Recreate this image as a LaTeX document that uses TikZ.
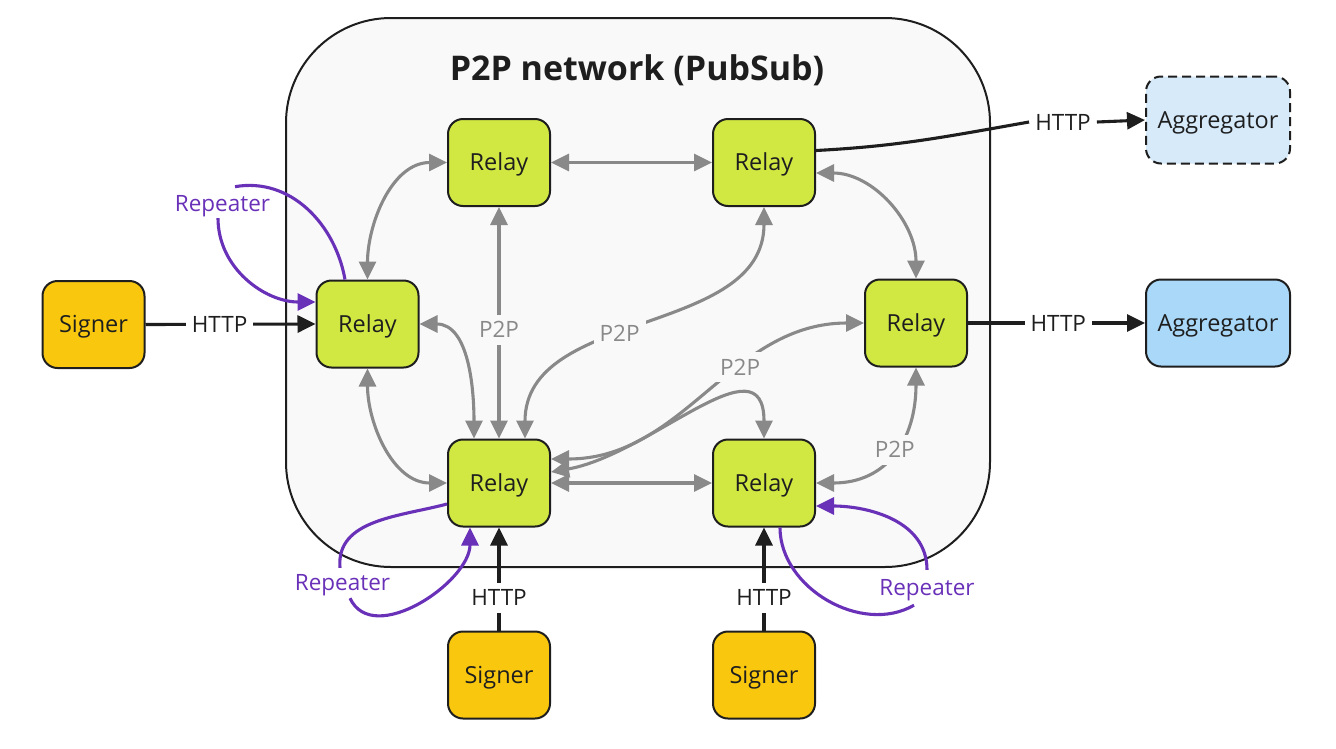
\documentclass[tikz,border=0pt]{standalone}
\usepackage{fontspec}
\setmainfont{Open Sans}
\usepackage{xcolor}
\usepackage{tikz}
\usetikzlibrary{arrows.meta}

\definecolor{relaygreen}{HTML}{D1E843}
\definecolor{signeryellow}{HTML}{F9C80E}
\definecolor{aggblue}{HTML}{A9D8F8}
\definecolor{aggpale}{HTML}{D6EAFA}
\definecolor{netgray}{HTML}{F9F9F9}
\definecolor{p2pgray}{HTML}{898989}
\definecolor{reppurple}{HTML}{6930B8}
\definecolor{ink}{HTML}{1E1E1E}

\tikzset{bigtri/.tip={Triangle[length=18pt, width=17pt]}}

\begin{document}
\begin{tikzpicture}[x=1pt, y=1pt,
    box/.style={draw=ink, line width=2pt, rounded corners=15pt,
      minimum width=102pt, minimum height=87pt, inner sep=0pt,
      text=ink, font=\fontsize{23.5}{28}\selectfont,
      text height=16.5pt, text depth=0pt},
    relay/.style={box, fill=relaygreen},
    signer/.style={box, fill=signeryellow},
    aggregator/.style={box, fill=aggblue, minimum width=144pt},
    network/.style={draw=ink, line width=2pt, fill=netgray,
      rounded corners=105pt, minimum width=704pt, minimum height=549pt},
    lbl/.style={font=\fontsize{22.5}{27}\selectfont,
      text height=16pt, text depth=0pt, inner xsep=6pt, inner ysep=7pt},
    p2plbl/.style={lbl, text=p2pgray, fill=netgray},
    httplbl/.style={lbl, text=ink, fill=white},
    replbl/.style={lbl, text=reppurple, inner sep=4pt},
    p2p/.style={draw=p2pgray, line width=3.1pt, bigtri-bigtri},
    http/.style={draw=ink, line width=3.1pt, -bigtri},
    repeater/.style={draw=reppurple, line width=3.1pt, -bigtri}]

    \useasboundingbox (0,0) rectangle (1336,-748);

    \node[network] (net) at (638,-292.5) {};
    \node[font=\fontsize{34}{40}\selectfont\bfseries, text=ink] (title)
      at (637,-70) {P2P network (PubSub)};

    \node[relay] (rl) at (367.5,-324) {Relay};
    \node[relay] (tl) at (499,-162.5) {Relay};
    \node[relay] (tr) at (764,-162.5) {Relay};
    \node[relay] (rr) at (916,-323) {Relay};
    \node[relay] (bl) at (499,-483) {Relay};
    \node[relay] (br) at (764,-483) {Relay};

    \node[signer] (sl) at (93.5,-324.5) {Signer};
    \node[signer] (sbl) at (499,-675) {Signer};
    \node[signer] (sbr) at (764,-675) {Signer};

    \node[aggregator, fill=aggpale, dash pattern=on 9pt off 5pt] (agtop)
      at (1218,-120) {Aggregator};
    \node[aggregator] (agmid) at (1218,-323) {Aggregator};

    \node[replbl] (repl) at (222.5,-203.4) {Repeater};
    \node[replbl] (repbl) at (342.5,-582.5) {Repeater};
    \node[replbl] (repbr) at (927,-587) {Repeater};
    \node[httplbl] (httptop) at (1063,-122) {HTTP};

    \draw[p2p] (rl.north) to[out=90, in=180] (tl.west);
    \draw[p2p] (tl.east) -- (tr.west);
    \draw[p2p] ([yshift=-10.5pt]tr.east) to[out=0, in=90] (rr.north);
    \draw[p2p] (tl.south) -- node[p2plbl, pos=0.53] {P2P} (bl.north);
    \draw[p2p] (rl.south) to[out=270, in=180] (bl.west);
    \draw[p2p] (rl.east) to[out=0, in=90] ([xshift=-25pt]bl.north);
    \draw[p2p] (tr.south) to[out=270, in=90]
      node[p2plbl, pos=0.57] {P2P} ([xshift=26pt]bl.north);
    \draw[p2p] (rr.west) to[out=180, in=0]
      node[p2plbl, pos=0.38] {P2P} ([yshift=24pt]bl.east);
    \draw[p2p] ([yshift=11pt]bl.east) to[out=10, in=90, looseness=1.2] (br.north);
    \draw[p2p] (bl.east) -- (br.west);
    \draw[p2p] (rr.south) to[out=270, in=0, looseness=1.2]
      node[p2plbl, pos=0.48] {P2P} (br.east);

    \draw[http] (sl.east) -- node[httplbl, pos=0.436] {HTTP} (rl.west);
    \draw[http] (rr.east) -- node[httplbl, pos=0.51] {HTTP} (agmid.west);
    \draw[http] (sbl.north) -- node[httplbl, pos=0.32] {HTTP} (bl.south);
    \draw[http] (sbr.north) -- node[httplbl, pos=0.32] {HTTP} (br.south);
    \draw[http] ([yshift=12pt]tr.east) to[out=3, in=190] (httptop.west)
      (httptop.east) -- (agtop.west);

    \draw[repeater] ([xshift=-22.5pt]rl.north) to[out=100, in=10]
      ([xshift=12.5pt, yshift=4.5pt]repl.north)
      ([xshift=-4.5pt, yshift=-2.5pt]repl.south) to[out=270, in=180]
      ([yshift=22pt]rl.west);
    \draw[repeater] ([yshift=-21pt]bl.west) to[out=195, in=95]
      ([xshift=-2.5pt, yshift=2.5pt]repbl.north)
      ([xshift=7.5pt, yshift=-3.5pt]repbl.south) to[out=295, in=270]
      ([xshift=-29pt]bl.south);
    \draw[repeater] ([xshift=16pt]br.south) to[out=270, in=210]
      ([xshift=-13pt, yshift=-6pt]repbr.south)
      ([yshift=5pt]repbr.north) to[out=90, in=0]
      ([yshift=-23pt]br.east);
\end{tikzpicture}
\end{document}
